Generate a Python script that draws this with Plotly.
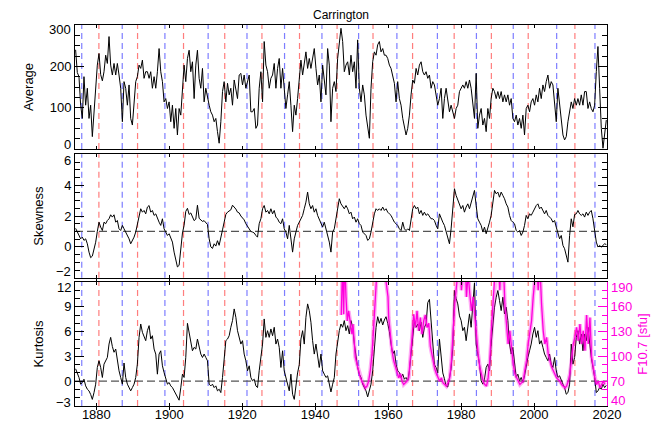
import plotly.graph_objects as go

# ---------------- data ----------------
years = [
    1874.32, 1874.78, 1875.24, 1875.70, 1876.16, 1876.61, 1877.07, 1877.53, 1877.99, 1878.44,
    1878.90, 1879.36, 1879.82, 1880.27, 1880.73, 1881.19, 1881.65, 1882.10, 1882.56, 1883.02,
    1883.48, 1883.93, 1884.39, 1884.85, 1885.31, 1885.76, 1886.22, 1886.68, 1887.14, 1887.59,
    1888.05, 1888.51, 1888.97, 1889.42, 1889.88, 1890.34, 1890.80, 1891.25, 1891.71, 1892.17,
    1892.63, 1893.08, 1893.54, 1894.00, 1894.46, 1894.91, 1895.37, 1895.83, 1896.29, 1896.74,
    1897.20, 1897.66, 1898.12, 1898.57, 1899.03, 1899.49, 1899.95, 1900.40, 1900.86, 1901.32,
    1901.78, 1902.23, 1902.69, 1903.15, 1903.61, 1904.06, 1904.52, 1904.98, 1905.44, 1905.89,
    1906.35, 1906.81, 1907.27, 1907.72, 1908.18, 1908.64, 1909.10, 1909.55, 1910.01, 1910.47,
    1910.93, 1911.38, 1911.84, 1912.30, 1912.76, 1913.21, 1913.67, 1914.13, 1914.59, 1915.04,
    1915.50, 1915.96, 1916.42, 1916.87, 1917.33, 1917.79, 1918.25, 1918.70, 1919.16, 1919.62,
    1920.08, 1920.53, 1920.99, 1921.45, 1921.91, 1922.36, 1922.82, 1923.28, 1923.74,
    1924.19, 1924.65, 1925.11, 1925.57, 1926.02, 1926.48, 1926.94, 1927.40, 1927.85, 1928.31,
    1928.77, 1929.23, 1929.68, 1930.14, 1930.60, 1931.06, 1931.51, 1931.97, 1932.43, 1932.89,
    1933.34, 1933.80, 1934.26, 1934.72, 1935.17, 1935.63, 1936.09, 1936.55, 1937.00, 1937.46,
    1937.92, 1938.38, 1938.83, 1939.29, 1939.75, 1940.21, 1940.66, 1941.12, 1941.58, 1942.04,
    1942.49, 1942.95, 1943.41, 1943.87, 1944.32, 1944.78, 1945.24, 1945.70, 1946.15, 1946.61,
    1947.07, 1947.53, 1947.98, 1948.44, 1948.90, 1949.36, 1949.81, 1950.27, 1950.73, 1951.19,
    1951.64, 1952.10, 1952.56, 1953.02, 1953.47, 1953.93, 1954.39, 1954.85, 1955.30, 1955.76,
    1956.22, 1956.68, 1957.13, 1957.59, 1958.05, 1958.51, 1958.96, 1959.42, 1959.88, 1960.34,
    1960.79, 1961.25, 1961.71, 1962.17, 1962.62, 1963.08, 1963.54, 1964.00, 1964.45, 1964.91,
    1965.37, 1965.83, 1966.28, 1966.74, 1967.20, 1967.66, 1968.11, 1968.57, 1969.03, 1969.49,
    1969.94, 1970.40, 1970.86, 1971.32, 1971.77, 1972.23,
    1972.69, 1973.15, 1973.60, 1974.06, 1974.52, 1974.98, 1975.43, 1975.89, 1976.35, 1976.81,
    1977.26, 1977.72, 1978.18, 1978.64, 1979.09, 1979.55, 1980.01, 1980.47, 1980.92, 1981.38,
    1981.84, 1982.30, 1982.75, 1983.21, 1983.67, 1984.13, 1984.58, 1985.04, 1985.50, 1985.96,
    1986.41, 1986.87, 1987.33, 1987.79, 1988.24, 1988.70, 1989.16, 1989.62, 1990.07, 1990.53,
    1990.99, 1991.45, 1991.90, 1992.36, 1992.82, 1993.28, 1993.73, 1994.19, 1994.65, 1995.11,
    1995.56, 1996.02, 1996.48, 1996.94, 1997.39, 1997.85, 1998.31, 1998.77, 1999.22, 1999.68,
    2000.14, 2000.60, 2001.05, 2001.51, 2001.97, 2002.43, 2002.88, 2003.34, 2003.80, 2004.26,
    2004.71, 2005.17, 2005.63, 2006.09, 2006.54, 2007.00, 2007.46, 2007.92, 2008.37, 2008.83,
    2009.29, 2009.75, 2010.20, 2010.66, 2011.12, 2011.58, 2012.03, 2012.49, 2012.95, 2013.41,
    2013.86, 2014.32, 2014.78, 2015.24, 2015.69, 2016.15, 2016.61, 2017.07, 2017.52, 2017.98,
    2018.44, 2018.90, 2019.35, 2019.81,
]

average = [
    240, 185, 175, 106, 74, 175, 106, 147, 74, 106,
    30, 90, 147, 203, 231, 180, 165, 187, 227, 207,
    272, 203, 179, 207, 179, 207, 179, 147, 66, 163,
    147, 106, 155, 74, 58, 114, 163, 175, 203, 195,
    215, 171, 187, 187, 171, 187, 147, 175, 147, 187,
    243, 187, 163, 114, 122, 98, 114, 66, 106, 50,
    98, 34, 98, 82, 147, 203, 163, 219, 239, 187,
    211, 122, 203, 239, 171, 147, 195, 114, 147, 122,
    106, 90, 82, 66, 74, 42, 14, 66, 139, 163,
    114, 159, 131, 147, 106, 167, 139, 122, 179, 183,
    155, 179, 147, 163, 179, 90, 90, 98, 50,
    58, 147, 187, 114, 260, 203, 187, 147, 171, 179,
    207, 147, 195, 219, 147, 195, 147, 98, 131, 163,
    106, 42, 106, 82, 122, 163, 215, 179, 203, 235,
    195, 219, 195, 219, 243, 195, 155, 179, 114, 203,
    163, 131, 243, 203, 66, 147, 163, 139, 219, 252,
    292, 260, 187, 203, 211, 179, 227, 187, 211, 147,
    264, 147, 114, 155, 131, 82, 58, 26, 147, 211,
    235, 227, 252, 260, 235, 243, 227, 227, 219, 203,
    195, 175, 159, 114, 163, 122, 106, 74, 50, 34,
    50, 82, 131, 167, 159, 195, 179, 203, 211, 187,
    179, 187, 171, 179, 147, 163,
    155, 131, 106, 122, 147, 74, 122, 147, 114, 90,
    106, 90, 74, 98, 106, 139, 147, 155, 147, 163,
    147, 167, 147, 114, 74, 183, 50, 82, 98, 58,
    74, 42, 98, 74, 122, 147, 139, 122, 139, 122,
    139, 114, 131, 114, 131, 106, 122, 74, 66, 82,
    58, 74, 50, 82, 34, 98, 106, 90, 114, 122,
    106, 131, 114, 147, 122, 155, 139, 163, 179, 147,
    163, 155, 106, 66, 147, 114, 74, 34, 22, 30,
    66, 90, 114, 98, 122, 106, 122, 106, 131, 106,
    139, 139, 98, 114, 98, 90, 106, 187, 248, 147,
    50, 2, 30, 70,
]

skewness = [
    1.2, 0.96, 0.74, 0.52, 0.63, 0.42, 0.52, 0.2, -0.34, -0.7,
    -0.6, -0.15, 0.3, 1.0, 1.6, 1.28, 1.06, 1.6, 1.5, 1.71,
    1.82, 2.08, 1.93, 2.08, 1.6, 1.71, 1.17, 1.06, 1.39, 1.17,
    0.96, 0.74, 0.52, 0.2, 0.42, 0.63, 0.96, 1.39, 1.93, 2.47,
    2.25, 2.36, 2.14, 2.58, 2.68, 2.25, 2.36, 2.04, 2.14, 1.82,
    1.6, 1.39, 1.82, 1.17, 0.96, 0.74, 0.85, 0.63, 0.31, -0.34,
    -0.77, -1.3, -1.2, -0.1, 0.9, 1.4, 2.3, 2.5, 2.1, 2.2,
    1.9, 1.7, 1.8, 2.7, 1.85, 1.75, 1.65, 1.7, 1.55, 1.45,
    0.52, 0.0, -0.1, 0.2, 0.05, 0.4, 0.1, 0.7, 1.1, 1.6,
    2.1, 2.25, 2.3, 2.4, 2.7, 2.6, 2.45, 2.25, 2.2, 2.0,
    1.85, 1.75, 1.5, 1.3, 1.1, 1.0, 0.96, 0.9, 0.74,
    0.63, 1.5, 1.82, 2.47, 2.68, 2.25, 2.36, 2.14, 2.47, 2.14,
    2.36, 1.93, 1.82, 1.6, 1.5, 1.82, 1.17, 0.96, 0.52, 1.39,
    0.31, -0.34, 0.52, 0.96, 1.39, 1.6, 1.82, 2.04, 2.47, 2.9,
    3.55, 2.79, 2.47, 2.68, 2.25, 2.47, 2.04, 1.82, 1.6, 1.28,
    1.6, 1.17, 0.74, 0.31, -0.34, 0.96, 1.17, 1.82, 2.47, 3.12,
    2.79, 2.58, 2.47, 2.68, 2.47, 2.14, 2.25, 1.82, 1.93, 1.6,
    1.82, 1.5, 1.39, 0.96, 0.85, 0.74, 0.42, 0.52, 0.96, 1.6,
    2.14, 2.47, 2.36, 2.47, 2.36, 2.58, 2.36, 2.47, 2.25, 2.14,
    2.04, 1.82, 1.6, 1.5, 1.39, 1.17, 1.06, 1.6, 1.17, 1.06,
    1.17, 1.06, 1.71, 2.47, 2.68, 2.47, 2.58, 2.14, 2.36, 2.04,
    2.25, 2.04, 2.14, 1.93, 1.82, 1.82,
    1.71, 1.39, 1.17, 2.14, 1.82, 1.6, 1.39, 0.96, 0.52, 0.2,
    1.17, 2.47, 3.77, 3.33, 3.0, 2.79, 2.47, 2.68, 2.25, 2.58,
    2.79, 2.47, 2.9, 3.33, 3.66, 2.68, 1.82, 1.6, 1.39, 0.96,
    1.28, 0.85, 1.17, 1.6, 2.04, 2.9, 3.66, 3.44, 3.55, 3.22,
    3.55, 3.33, 3.12, 2.79, 2.58, 2.04, 1.71, 1.6, 1.5, 1.06,
    0.96, 1.06, 0.74, 0.96, 1.39, 2.04, 1.82, 2.14, 2.04, 2.25,
    2.47, 2.68, 2.79, 2.47, 2.58, 2.36, 2.14, 2.36, 2.04, 1.93,
    1.82, 1.6, 1.71, 1.28, 0.96, 0.52, 0.74, 0.09, -0.12, -0.56,
    -0.99, 0.74, 1.82, 1.3, 2.1, 2.14, 2.36, 2.14, 2.04, 2.14,
    1.93, 2.25, 2.04, 2.25, 2.36, 1.82, 1.17, 0.31, -0.01, 0.09,
    -0.01, 0.09, 0.2, 0.15,
]

kurtosis = [
    1.5, 1.05, 0.45, -0.36, -0.16, 0.24, -0.57, -0.97, -1.17, -1.6,
    -2.2, -1.38, -0.36, 1.66, 2.47, 1.66, 0.45, 2.06, 2.47, 2.87,
    4.49, 5.3, 4.2, 3.5, 3.89, 2.47, 1.26, 0.45, -0.36, 2.2,
    0.45, -0.36, -0.77, -1.17, -0.77, -0.36, 0.45, 2.06, 5.3, 6.92,
    5.91, 5.5, 4.9, 6.11, 6.72, 5.1, 5.5, 3.89, 3.28, 0.85,
    3.28, 3.68, 1.86, 1.05, 0.45, -0.36, -0.16, -0.57, -0.77, -1.17,
    -1.58, -1.78, -2.3, -0.8, 0.85, 0.45, 2.87, 7.0, 5.71, 4.49,
    3.68, 4.09, 3.89, 5.1, 4.09, 3.28, 2.87, 3.28, 2.87, 2.47,
    -0.36, -0.57, -0.36, -0.77, -0.57, -1.17, -0.97, -1.38, 0.45, 3.28,
    4.9, 5.1, 5.5, 6.52, 7.33, 8.74, 7.73, 6.11, 5.3, 4.49,
    4.9, 3.28, 2.47, 1.26, 1.86, 0.45, 0.04, 0.24, -0.57,
    -0.77, 1.26, 3.28, 4.49, 7.53, 5.3, 6.11, 5.3, 6.32, 5.5,
    6.52, 4.49, 5.1, 4.09, 1.66, 3.68, 1.26, 0.45, -0.36, -1.17,
    0.85, -1.58, -2.2, -0.36, 1.0, 2.0, 5.1, 6.11, 4.49, 7.73,
    9.35, 8.54, 7.13, 4.9, 3.28, 4.49, 2.87, 1.66, 3.28, 1.26,
    0.85, 0.45, 0.65, -0.36, -1.3, -0.36, 0.45, 3.28, 4.9, 6.11,
    6.92, 6.52, 7.33, 6.11, 6.72, 5.71, 7.33, 6.52, 4.49, 2.87,
    1.66, 0.85, 0.45, -0.36, -0.77, -1.17, -1.9, -1.17, -0.36, 1.26,
    4.49, 6.5, 7.8, 7.0, 7.6, 6.8, 7.4, 7.8, 7.0, 6.0,
    4.49, 3.28, 3.68, 2.06, 1.26, 1.05, 0.45, 0.85, 0.24, 0.45,
    0.04, 1.26, 3.28, 5.3, 7.33, 6.52, 6.92, 6.11, 7.13, 5.3,
    6.52, 6.92, 9.5, 9.9, 6.9, 4.5,
    2.0, 1.66, 1.0, 5.1, 2.5, 1.0, 0.3, -0.6, -0.7, 0.45,
    1.5, 4.0, 10.97, 10.0, 9.35, 7.9, 7.33, 6.11, 6.52, 4.9,
    6.52, 8.14, 6.52, 9.5, 11.9, 4.49, 3.28, 2.06, 0.04, -0.36,
    0.24, 1.66, 2.06, 1.26, 4.49, 7.33, 8.95, 10.16, 10.97, 9.76,
    8.54, 10.16, 8.14, 8.95, 7.33, 4.49, 3.28, 4.09, 2.06, 0.45,
    0.85, 0.04, 0.45, -0.16, 0.65, 2.06, 2.87, 3.68, 4.49, 5.71,
    6.52, 5.3, 6.11, 4.49, 4.9, 4.09, 3.28, 2.87, 2.47, 3.28,
    2.06, 1.66, 2.87, 1.26, 0.45, 0.65, 0.04, -0.36, -0.77, -1.58,
    -1.38, -0.36, 4.49, 2.06, 2.87, 5.3, 6.11, 4.49, 5.71, 3.68,
    5.71, 4.9, 6.52, 4.49, 2.87, 1.66, 0.45, -1.38, -1.17, -0.77,
    -0.97, -0.36, -0.77, -0.5,
]

f107_years = [
    1947.15, 1947.52, 1947.80, 1948.07, 1948.44, 1948.80, 1949.17, 1949.62, 1950.08, 1950.36,
    1950.72, 1950.99, 1951.45, 1951.91, 1952.37, 1952.83, 1953.28, 1953.74, 1954.20, 1954.66,
    1955.11, 1955.57, 1956.03, 1956.30, 1956.67, 1957.40, 1958.31, 1959.23, 1959.96, 1960.15,
    1960.60, 1961.06, 1961.52, 1961.98, 1962.43, 1962.89, 1963.35, 1963.81, 1964.26, 1964.72,
    1965.18, 1965.64, 1966.09, 1966.55, 1967.01, 1967.47, 1967.92, 1968.38, 1968.84, 1969.30,
    1969.75, 1970.21, 1970.67, 1971.13, 1971.58, 1972.04, 1972.32, 1972.77, 1973.23, 1973.69,
    1974.15, 1974.60, 1975.06, 1975.52, 1975.98, 1976.43, 1976.89, 1977.35, 1977.81, 1978.26,
    1978.72, 1979.18, 1979.64, 1980.09, 1980.55, 1981.01, 1981.47, 1981.92, 1982.38, 1982.84,
    1983.30, 1983.75, 1984.21, 1984.67, 1985.13, 1985.58, 1986.04, 1986.50, 1986.96, 1987.41,
    1987.87, 1988.33, 1988.79, 1989.24, 1989.70, 1990.16, 1990.62, 1991.07, 1991.53, 1991.99,
    1992.45, 1992.90, 1993.36, 1993.82, 1994.28, 1994.73, 1995.19, 1995.65, 1996.11, 1996.56,
    1997.02, 1997.48, 1997.94, 1998.39, 1998.85, 1999.31, 1999.77, 2000.22, 2000.68, 2001.14,
    2001.60, 2002.05, 2002.51, 2002.97, 2003.43, 2003.88, 2004.34, 2004.80, 2005.26, 2005.71,
    2006.17, 2006.63, 2007.09, 2007.54, 2008.00, 2008.46, 2008.92, 2009.37, 2009.83, 2010.29,
    2010.75, 2011.20, 2011.66, 2012.12, 2012.58, 2013.03, 2013.49, 2013.95, 2014.41, 2014.86,
    2015.32, 2015.78, 2016.24, 2016.69, 2017.15, 2017.61, 2018.07, 2018.52, 2018.98, 2019.44,
]

f107 = [
    150, 215, 151, 220, 172, 143, 155, 143, 127, 139,
    115, 99, 91, 83, 74, 70, 66, 62, 64, 70,
    83, 103, 135, 172, 210, 240, 230, 200, 172, 147,
    123, 107, 95, 87, 79, 74, 79, 70, 66, 68,
    70, 74, 95, 123, 151, 135, 155, 131, 147, 127,
    143, 150, 135, 140, 112, 100, 95, 85, 79, 74,
    70, 74, 68, 66, 64, 68, 74, 95, 135, 164,
    184, 220, 230, 180, 225, 230, 172, 200, 176, 155,
    172, 147, 123, 103, 87, 79, 70, 66, 64, 74,
    95, 135, 159, 184, 230, 220, 180, 230, 220, 164,
    143, 115, 131, 107, 91, 79, 74, 70, 66, 68,
    70, 83, 95, 115, 127, 143, 172, 188, 215, 180,
    210, 164, 131, 115, 123, 103, 95, 87, 83, 79,
    74, 72, 70, 66, 64, 62, 64, 70, 79, 95,
    115, 123, 135, 119, 139, 115, 131, 107, 150, 115,
    147, 99, 83, 74, 66, 70, 62, 66, 70, 66,
]

red_epochs = [1880.7, 1891.3, 1903.9, 1915.2, 1925.4, 1935.7, 1946.0,
              1955.85, 1966.7, 1978.1, 1988.3, 1998.4, 2011.2]
blue_epochs = [1876.0, 1887.1, 1898.8, 1910.65, 1921.3, 1931.6, 1941.85,
               1951.9, 1962.4, 1973.5, 1984.2, 1994.3, 2006.2, 2016.7]

skew_reference = 1.0
kurt_reference = 0.0

# tick values / labels of each y axis
avg_ticks = [0, 100, 200, 300]
skew_ticks = [-2, 0, 2, 4, 6]
kurt_ticks = [-3, 0, 3, 6, 9, 12]
f107_ticks = [40, 70, 100, 130, 160, 190]

assert len(years) == len(average) == len(skewness) == len(kurtosis), (
    len(years), len(average), len(skewness), len(kurtosis))
assert len(f107_years) == len(f107), (len(f107_years), len(f107))

# ---------------- figure ----------------
FONT = "Liberation Sans, Arial, Helvetica, sans-serif"
MAG = "#ff00dd"
XR = [1874.15, 2020]
FS = 13


def lab(v):
    return str(v).replace("-", "\u2212")


def inner_text(ticks):
    # labels at the two ends are drawn separately (nudged inward)
    return [""] + [lab(v) for v in ticks[1:-1]] + [""]


fig = go.Figure()
fig.add_trace(go.Scatter(x=years, y=average, mode="lines", xaxis="x", yaxis="y",
                         line=dict(color="black", width=1), showlegend=False))
fig.add_trace(go.Scatter(x=years, y=skewness, mode="lines", xaxis="x2", yaxis="y2",
                         line=dict(color="black", width=1), showlegend=False))
fig.add_trace(go.Scatter(x=years, y=kurtosis, mode="lines", xaxis="x3", yaxis="y3",
                         line=dict(color="black", width=1), showlegend=False))
fig.add_trace(go.Scatter(x=f107_years, y=f107, mode="lines", xaxis="x3", yaxis="y4",
                         line=dict(color="rgba(255,0,221,0.33)", width=4), showlegend=False))
fig.add_trace(go.Scatter(x=f107_years, y=f107, mode="lines", xaxis="x3", yaxis="y4",
                         line=dict(color=MAG, width=1.3), showlegend=False))

shapes = []
panels = [("x", "y"), ("x2", "y2"), ("x3", "y3")]
for xa, ya in panels:
    for ep in red_epochs:
        shapes.append(dict(type="line", xref=xa, yref=f"{ya} domain", x0=ep, x1=ep, y0=0, y1=1,
                           line=dict(color="rgba(255,40,40,0.6)", width=1.2, dash="6px,4px"),
                           layer="below"))
    for ep in blue_epochs:
        shapes.append(dict(type="line", xref=xa, yref=f"{ya} domain", x0=ep, x1=ep, y0=0, y1=1,
                           line=dict(color="rgba(40,40,255,0.6)", width=1.2, dash="6px,4px"),
                           layer="below"))
shapes.append(dict(type="line", xref="x2 domain", yref="y2", x0=0, x1=1,
                   y0=skew_reference, y1=skew_reference,
                   line=dict(color="#555555", width=1.2, dash="8px,4px"), layer="below"))
shapes.append(dict(type="line", xref="x3 domain", yref="y3", x0=0, x1=1,
                   y0=kurt_reference, y1=kurt_reference,
                   line=dict(color="#555555", width=1.2, dash="8px,4px"), layer="below"))

xcommon = dict(range=XR, showline=True, linecolor="black", linewidth=1, mirror="allticks",
               ticks="inside", ticklen=3, tickcolor="black", dtick=20, tick0=1880,
               showgrid=False, zeroline=False,
               tickfont=dict(family=FONT, size=FS, color="black"))
ycommon = dict(showline=True, linecolor="black", linewidth=1, mirror="allticks",
               ticks="inside", ticklen=9, tickcolor="black", showgrid=False, zeroline=False,
               tickfont=dict(family=FONT, size=FS, color="black"), automargin=False,
               tickmode="array")

# end labels nudged inward, as in the reference
annotations = [dict(text="Carrington", xref="paper", yref="paper", x=0.5, y=1.0,
                    xanchor="center", yanchor="middle", yshift=10, showarrow=False,
                    font=dict(family=FONT, size=12, color="black"))]
for yref, ticks, shifts in [("y", avg_ticks, (5, -4)), ("y2", skew_ticks, (6, -6)),
                            ("y3", kurt_ticks, (4, -6))]:
    for val, sh in zip((ticks[0], ticks[-1]), shifts):
        annotations.append(dict(text=lab(val), xref="paper", yref=yref, x=0, y=val,
                                xanchor="right", yanchor="middle", xshift=-2, yshift=sh,
                                showarrow=False,
                                font=dict(family=FONT, size=FS, color="black")))
for val, sh in zip((f107_ticks[0], f107_ticks[-1]), (6, -6)):
    annotations.append(dict(text=lab(val), xref="paper", yref="y4", x=1, y=val,
                            xanchor="left", yanchor="middle", xshift=2, yshift=sh,
                            showarrow=False, font=dict(family=FONT, size=FS, color=MAG)))

fig.update_layout(
    width=665, height=443,
    margin=dict(l=67, r=66, t=17, b=45),
    paper_bgcolor="white", plot_bgcolor="white",
    font=dict(family=FONT, size=FS, color="black"),
    showlegend=False,
    shapes=shapes,
    annotations=annotations,
    xaxis=dict(xcommon, anchor="y", domain=[0, 1], showticklabels=False),
    xaxis2=dict(xcommon, anchor="y2", domain=[0, 1], showticklabels=False),
    xaxis3=dict(xcommon, anchor="y3", domain=[0, 1], showticklabels=True,
                ticklabelstandoff=-4),
    yaxis=dict(ycommon, anchor="x", domain=[0.6745, 1.0], range=[0, 300],
               tickvals=avg_ticks, ticktext=inner_text(avg_ticks),
               minor=dict(dtick=25, ticks="inside", ticklen=5, tickcolor="black"),
               title=dict(text="Average", standoff=13, font=dict(family=FONT, size=FS))),
    yaxis2=dict(ycommon, anchor="x2", domain=[0.3367, 0.6606], range=[-2, 6],
                tickvals=skew_ticks, ticktext=inner_text(skew_ticks),
                minor=dict(dtick=0.5, tick0=0, ticks="inside", ticklen=5, tickcolor="black"),
                title=dict(text="Skewness", standoff=17, font=dict(family=FONT, size=FS))),
    yaxis3=dict(ycommon, anchor="x3", domain=[0, 0.3255], range=[-3, 12], mirror=False,
                tickvals=kurt_ticks, ticktext=inner_text(kurt_ticks),
                minor=dict(dtick=1, tick0=0, ticks="inside", ticklen=5, tickcolor="black"),
                title=dict(text="Kurtosis", standoff=17, font=dict(family=FONT, size=FS))),
    yaxis4=dict(overlaying="y3", side="right", anchor="x3", range=[40, 190],
                tickmode="array", tickvals=f107_ticks, ticktext=inner_text(f107_ticks),
                showline=True, linecolor=MAG, linewidth=1, ticks="inside", ticklen=9,
                tickcolor=MAG, showgrid=False, zeroline=False, automargin=False,
                minor=dict(dtick=10, tick0=40, ticks="inside", ticklen=5, tickcolor=MAG),
                tickfont=dict(family=FONT, size=FS, color=MAG),
                title=dict(text="F10.7 [sfu]", standoff=6,
                           font=dict(family=FONT, size=FS, color=MAG))),
)

fig.write_html("out.html")
